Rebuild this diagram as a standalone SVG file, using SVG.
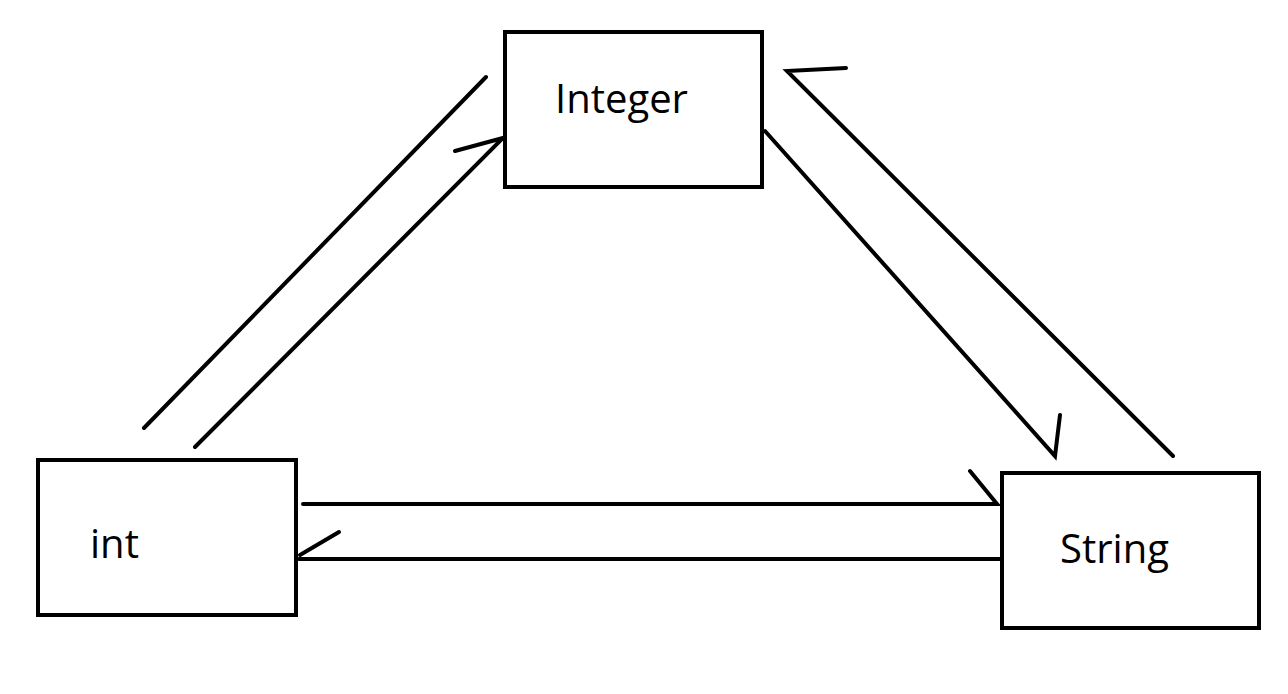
<svg xmlns="http://www.w3.org/2000/svg" width="1288" height="694" viewBox="0 0 1288 694">
<style>
.box{fill:#fff;stroke:#000;stroke-width:4}
.lbl{font-family:"Open Sans","Noto Sans",sans-serif;font-size:40px;fill:#000}
.ln{stroke:#000;stroke-width:4;stroke-linecap:round;fill:none}
</style>
<rect width="1288" height="694" fill="#fff"/>
<g id="connectors">
<line class="ln" x1="144" y1="428" x2="486" y2="77"/>
<polyline class="ln" points="195,447 503,138 455,151"/>
<polyline class="ln" points="765,131 1055,456 1060,415"/>
<polyline class="ln" points="1173,456 787,71 846,68"/>
<polyline class="ln" points="303,504 997,504 970,471"/>
<polyline class="ln" points="1002,559 299,559"/>
<line class="ln" x1="300" y1="555" x2="339" y2="532"/>
</g>
<g id="node-integer">
<rect class="box" x="505" y="32" width="257" height="155"/>
<text class="lbl" x="555" y="113">Integer</text>
</g>
<g id="node-int">
<rect class="box" x="38" y="460" width="258" height="155"/>
<text class="lbl" x="90" y="558">int</text>
</g>
<g id="node-string">
<rect class="box" x="1002" y="473" width="257" height="155"/>
<text class="lbl" x="1060" y="563">String</text>
</g>
</svg>
